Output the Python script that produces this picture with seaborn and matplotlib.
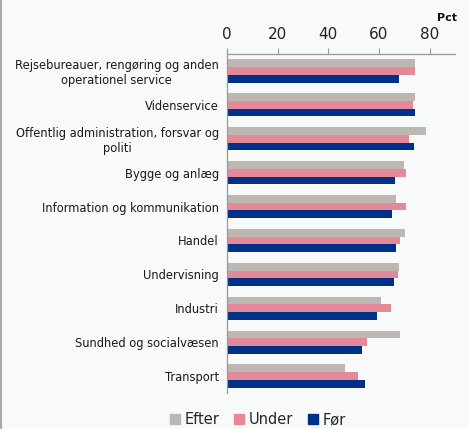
import numpy as np
import pandas as pd
import matplotlib.pyplot as plt
import seaborn as sns

categories = [
    "Rejsebureauer, rengøring og anden\noperationel service",
    "Videnservice",
    "Offentlig administration, forsvar og\npoliti",
    "Bygge og anlæg",
    "Information og kommunikation",
    "Handel",
    "Undervisning",
    "Industri",
    "Sundhed og socialvæsen",
    "Transport",
]
efter = [74.3, 74.2, 78.5, 69.9, 66.7, 70.4, 67.8, 60.9, 68.3, 46.4]
under = [74.3, 73.5, 72.0, 70.8, 70.8, 68.4, 67.6, 64.6, 55.3, 51.6]
foer = [67.8, 74.3, 73.9, 66.4, 65.3, 66.7, 65.9, 59.2, 53.3, 54.6]
series = ["Efter", "Under", "Før"]
colors = ["#bcb8b1", "#e3899a", "#003087"]

df = pd.DataFrame({
    "Branche": categories * 3,
    "Pct": efter + under + foer,
    "Periode": np.repeat(series, len(categories)),
})

sns.set_theme(style="white")
plt.rcParams["font.family"] = ["DejaVu Sans"]
bg = "#f8f9f9"

fig = plt.figure(figsize=(4.69, 4.29), dpi=100, facecolor=bg)
ax = fig.add_axes([0.484, 0.084, 0.486, 0.790])
ax.set_facecolor(bg)

sns.barplot(
    data=df,
    y="Branche",
    x="Pct",
    hue="Periode",
    hue_order=series,
    palette=colors,
    saturation=1,
    orient="h",
    width=0.68,
    linewidth=0,
    ax=ax,
)

ax.set_xlim(0, 90)
ax.set_ylim(len(categories) - 0.5, -0.5)
ax.set_xticks([0, 20, 40, 60, 80])
ax.xaxis.tick_top()
ax.tick_params(axis="x", length=4, width=0.8, color="#999999", labelsize=11,
               labelcolor="#222222", pad=5)
ax.tick_params(axis="y", which="major", length=0, labelsize=8.3,
               labelcolor="#1a1a1a", pad=6)
ax.set_yticks(np.arange(-0.5, len(categories), 1), minor=True)
ax.tick_params(axis="y", which="minor", length=4, width=0.8, color="#999999")
ax.set_xlabel("")
ax.set_ylabel("")
for lab in ax.get_yticklabels():
    lab.set_horizontalalignment("right")
    lab.set_multialignment("center")

for side in ["right", "bottom"]:
    ax.spines[side].set_visible(False)
for side in ["top", "left"]:
    ax.spines[side].set_color("#999999")
    ax.spines[side].set_linewidth(0.9)

ax.legend_.remove()
handles = [plt.Rectangle((0, 0), 1, 1, color=c) for c in colors]
fig.legend(handles, series, loc="center", bbox_to_anchor=(0.55, 0.021),
           ncol=3, frameon=False, fontsize=10.5, handlelength=0.7,
           handleheight=0.7, handletextpad=0.3, columnspacing=1.0)

fig.text(0.975, 0.957, "Pct", fontsize=8, fontweight="bold", ha="right",
         va="center", color="#111111")

fig.add_artist(plt.Line2D([0.003, 0.003], [0, 1], color="#999999",
                          linewidth=1.2, transform=fig.transFigure))

fig.savefig("out.png", dpi=100, facecolor=bg)
